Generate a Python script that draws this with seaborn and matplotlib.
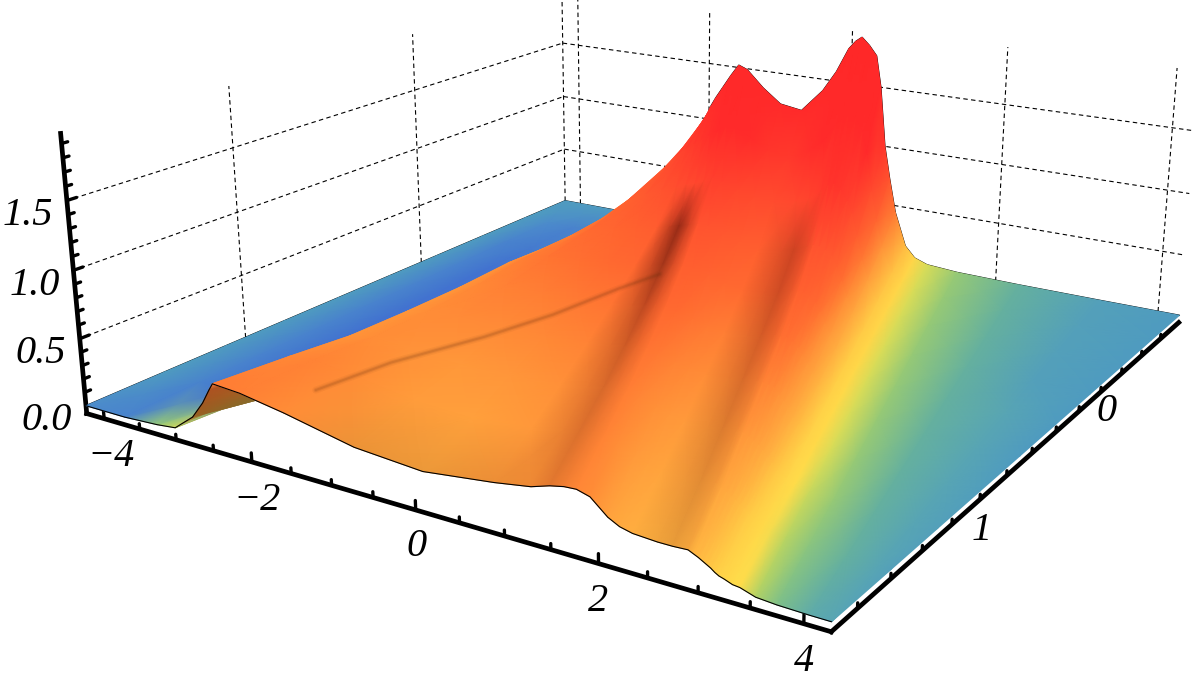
import numpy as np
import matplotlib
matplotlib.use("Agg")
import matplotlib.pyplot as plt
import seaborn as sns
from mpl_toolkits.mplot3d import proj3d

# rows run from the back edge (t = -1) to the front edge (t = 1.75)
t_rows = [-1.0, -0.7, -0.4, -0.1, 0.2, 0.5, 0.8, 1.1, 1.4, 1.75]
# each column of the sheet follows a line from its x at the back to its x at the front
x_back = [-4.25, -3.9, -3.5, -3.15, -2.9, -2.62, -2.5, -2.45, -2.27, -2.15, -2.06, -2.0, -1.97, -1.9, -1.8, -1.68,
          -1.57, -1.45, -1.22, -0.97, -0.67, -0.38, -0.2, -0.04, 0.05, 0.13, 0.23, 0.33, 0.4, 0.48, 0.56, 0.65,
          0.8, 0.93, 1.1, 1.5, 2.3, 3.3, 4.25]
x_front = [-4.25, -3.7, -3.25, -3.0, -2.75, -2.6, -2.5, -2.45, -2.1, -1.55, -0.7, 0.1, 0.9, 1.3, 1.5, 1.65,
           1.78, 1.92, 2.1, 2.22, 2.35, 2.6, 2.75, 2.9, 2.95, 3.0, 3.04, 3.08, 3.12, 3.16, 3.2, 3.25,
           3.33, 3.4, 3.55, 3.75, 4.05, 4.25, 4.25]
heights = [
    [0, 0, 0, 0, .01, .12, .3, .42, .66, .85, 1.0, 1.07, 1.12, 1.2, 1.3, 1.42, 1.52, 1.49, 1.35, 1.23, 1.2, 1.4, 1.58, 1.79, 1.86, 1.9, 1.84, 1.76, 1.5, 1.0, .72, .44, .16, .07, .03, .012, .004, .001, 0],
    [0, -.001, -.002, -.002, .008, .1, .26, .36, .55, .7, .82, .9, .95, 1.0, 1.05, 1.1, 1.15, 1.15, 1.08, 1.0, .95, 1.05, 1.15, 1.3, 1.36, 1.42, 1.38, 1.28, 1.1, .8, .55, .34, .14, .07, .03, .012, .004, .001, 0],
    [0, -.002, -.003, -.002, .006, .08, .22, .33, .45, .58, .66, .72, .76, .8, .82, .86, .9, .88, .84, .8, .78, .82, .86, .95, 1.0, 1.02, .98, .9, .8, .62, .44, .28, .12, .07, .03, .012, .004, .001, 0],
    [0, -.002, -.004, -.004, .005, .07, .2, .32, .42, .5, .55, .58, .62, .65, .68, .7, .72, .72, .68, .64, .6, .62, .66, .7, .72, .72, .7, .66, .58, .48, .36, .24, .11, .07, .03, .012, .004, .001, 0],
    [0, -.002, -.004, -.004, .005, .07, .19, .34, .42, .46, .48, .5, .53, .55, .58, .6, .6, .6, .57, .53, .5, .52, .54, .58, .58, .58, .56, .52, .46, .38, .3, .2, .1, .065, .03, .012, .004, .002, 0],
    [0, -.002, -.004, -.004, .005, .08, .2, .32, .38, .41, .42, .44, .46, .47, .5, .52, .52, .5, .47, .44, .42, .43, .46, .48, .48, .48, .46, .42, .38, .32, .26, .18, .09, .06, .03, .012, .004, .002, 0],
    [0, -.002, -.004, -.003, .006, .09, .22, .32, .36, .37, .37, .38, .4, .42, .44, .46, .46, .44, .4, .38, .36, .37, .39, .4, .4, .39, .38, .34, .3, .26, .2, .16, .08, .06, .03, .012, .004, .002, .0005],
    [0, -.002, -.004, -.003, .01, .12, .25, .33, .36, .34, .31, .32, .35, .38, .4, .42, .42, .39, .35, .32, .3, .3, .32, .33, .32, .3, .28, .26, .23, .19, .16, .12, .07, .05, .025, .012, .004, .002, .001],
    [0, -.002, -.004, .002, .03, .17, .3, .38, .4, .36, .29, .27, .31, .35, .38, .4, .4, .36, .3, .27, .25, .25, .25, .26, .24, .22, .2, .18, .16, .14, .11, .09, .06, .045, .02, .01, .004, .002, .001],
    [-.001, -.002, .012, .028, .145, .27, .38, .43, .415, .36, .255, .22, .28, .32, .36, .38, .385, .36, .26, .22, .2, .19, .19, .195, .18, .165, .15, .135, .12, .1, .085, .075, .055, .05, .018, .008, .003, .002, .002],
]
# how dark the two grooves are, row by row
groove_one = [1, 1, 1, .5, .55, .68, .75, .8, .82, .85]
groove_two = [1, 1, 1, .75, .75, .78, .8, .82, .85, .88]

# the faint crease that runs into the first groove
crease_x = [-1.7, -1.6, -1.25, -0.92, -0.63, -0.4]
crease_t = [1.55, 1.22, 0.87, 0.62, 0.35, 0.2]
crease_z = [.35, .33, .33, .38, .45, .5]

level_nodes = [-.004, -.001, 0, .002, .004, .008, .015, .03, .05, .12, .2, .35, .5, .8, 1.1, 2.0]
level_colors = ["#4272d0", "#4c8ccb", "#4f9bc0", "#58a5b4", "#65b09f", "#7fc088", "#a8d068", "#d8dc58", "#ffdc4a",
                "#ffc845", "#ffae40", "#ff9038", "#ff6a30", "#ff4a2e", "#ff2a2a", "#ff2828"]

x_ticks_major = [-4, -2, 0, 2, 4]
t_ticks_major = [1, 0]
z_ticks_major = [0.0, 0.5, 1.0, 1.5]

x_lim = (-4.25, 4.25)
t_lim = (1.75, -1.0)
z_lim = (-0.06, 1.97)

sns.set_theme(style="white")
fig = plt.figure(figsize=(12, 6.92), dpi=100)
ax = fig.add_axes([0.0459, 0.1461, 1, 1], projection="3d")
ax.set_axis_off()
ax.computed_zorder = False
ax.set_xlim(*x_lim)
ax.set_ylim(*t_lim)
ax.set_zlim(*z_lim)
ax.view_init(elev=17.7225, azim=-57.8686)
ax.set_proj_type("persp", focal_length=0.545)
ax.set_box_aspect((2.809, 2.8081, 0.97), zoom=1.6456)
ax.apply_aspect()


def to_px(x, t, z):
    x, t, z = np.asarray(x, float), np.asarray(t, float), np.asarray(z, float)
    a, b, _ = proj3d.proj_transform(x.ravel(), t.ravel(), z.ravel(), ax.get_proj())
    d = ax.transData.transform(np.column_stack([a, b]))
    return d[:, 0].reshape(x.shape), 692 - d[:, 1].reshape(x.shape)


# dashed grid on the two back walls
grid_kw = dict(color="black", lw=0.8, ls=(0, (4, 3)), zorder=1, clip_on=False)
for z in z_ticks_major[1:]:
    ax.plot([x_lim[0], x_lim[0]], [t_lim[0], t_lim[1]], [z, z], **grid_kw)
    ax.plot([x_lim[0], x_lim[1]], [t_lim[1], t_lim[1]], [z, z], **grid_kw)
for t in [1, 0, -1]:
    ax.plot([x_lim[0], x_lim[0]], [t, t], [0, z_lim[1]], **grid_kw)
for x in x_ticks_major:
    ax.plot([x, x], [t_lim[1], t_lim[1]], [0, z_lim[1]], **grid_kw)

# the three thick axes with their ticks
axis_kw = dict(color="black", lw=3.4, zorder=2, solid_capstyle="projecting", clip_on=False)
ax.plot(x_lim, [t_lim[0], t_lim[0]], [z_lim[0], z_lim[0]], **axis_kw)
ax.plot([x_lim[1], x_lim[1]], t_lim, [z_lim[0], z_lim[0]], **axis_kw)
ax.plot([x_lim[0], x_lim[0]], [t_lim[0], t_lim[0]], z_lim, **axis_kw)
tick_kw = dict(color="black", lw=2.4, zorder=2, clip_on=False)
for x in np.arange(-4, 4.01, 0.5):
    ax.plot([x, x], [t_lim[0], t_lim[0]], [z_lim[0], z_lim[0] + (0.065 if x in x_ticks_major else 0.04)], **tick_kw)
for t in np.arange(-0.8, 1.61, 0.2):
    ax.plot([x_lim[1], x_lim[1]], [t, t], [z_lim[0], z_lim[0] + 0.035], **tick_kw)
for z in np.arange(0.1, 1.91, 0.1):
    ax.plot([x_lim[0], x_lim[0]], [t_lim[0], t_lim[0] - (0.04 if round(z * 10) % 5 == 0 else 0.025)], [z, z], **tick_kw)

# sheet: gouraud mesh in pixel space on a plain axes above the camera axes
ov = fig.add_axes([0, 0, 1, 1], zorder=3)
ov.set_xlim(0, 1200)
ov.set_ylim(692, 0)
ov.axis("off")
ov.patch.set_alpha(0)

Z = np.array(heights, float)
T = np.array(t_rows)[:, None] * np.ones_like(Z)
xb, xf = np.array(x_back), np.array(x_front)
X = xb + (xf - xb) * (T + 1.0) / 2.75
pal = np.array(sns.color_palette(level_colors))
rgb = np.dstack([np.interp(Z, level_nodes, pal[:, k]) for k in range(3)])

shade = np.ones_like(Z)
g1, g2 = np.array(groove_one), np.array(groove_two)
shade[:, 14] = g1
shade[:, 13] = 1 - (1 - g1) * 0.6
shade[:, 15] = 1 - (1 - g1) * 0.45
shade[:, 22] = g2
shade[:, 21] = 1 - (1 - g2) * 0.6
shade[:, 23] = 1 - (1 - g2) * 0.45
shade[:, [4, 5, 6]] = [0.5, 0.55, 0.6]
shade[9, 10:13] = 0.9
# red falls off slower than green and blue so the grooves stay brown
rgb[:, :, 0] = rgb[:, :, 0] * shade ** 0.75
rgb[:, :, 1] = rgb[:, :, 1] * shade
rgb[:, :, 2] = rgb[:, :, 2] * shade

U, V = to_px(X, T, Z)
# back edge goes under the mesh so the ridge hides it
line_kw = dict(color="black", lw=1.1, zorder=2)
ov.plot(U[0], V[0], **line_kw)
ov.plot(U[:, 0], V[:, 0], **line_kw)
ov.pcolormesh(U, V, rgb, shading="gouraud", zorder=3)
ov.plot(U[-1], V[-1], color="black", lw=0.8, zorder=4)

cu, cv = to_px(crease_x, crease_t, crease_z)
for lw, al in zip([5, 3, 1.5], [0.06, 0.1, 0.14]):
    ov.plot(cu, cv, color="#6a3010", lw=lw, alpha=al, zorder=3.5, solid_capstyle="round")

label_kw = dict(family="Liberation Serif", style="italic", size=29, color="black", ha="center", va="center", zorder=5)
for x, lab, dx, dy in zip(x_ticks_major, ["\u22124", "\u22122", "0", "2", "4"], [7, 5, 1, 0, 0], [38, 39, 37, 38, 38]):
    u, v = to_px([x], [t_lim[0]], [z_lim[0]])
    ov.text(u[0] + dx, v[0] + dy, lab, **label_kw)
for t, lab, dx, dy in zip(t_ticks_major, ["1", "0"], [30, 28], [6, 0]):
    u, v = to_px([x_lim[1]], [t], [z_lim[0]])
    ov.text(u[0] + dx, v[0] + dy, lab, **label_kw)
for z in z_ticks_major:
    u, v = to_px([x_lim[0]], [t_lim[0]], [z])
    ov.text(u[0] - 39, v[0] + 15, f"{z:.1f}", **label_kw)

fig.savefig("out.png", dpi=100)
